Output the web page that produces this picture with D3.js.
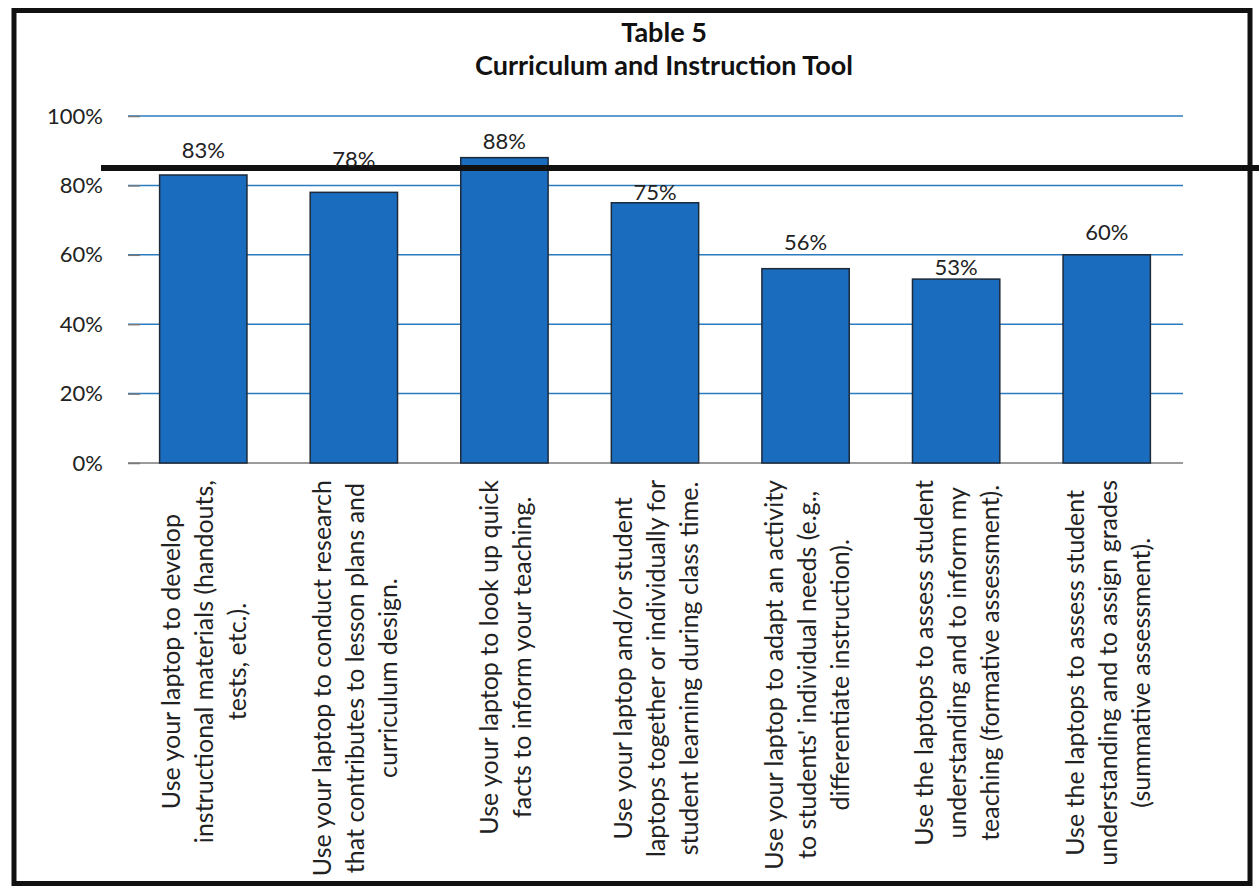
<!DOCTYPE html>
<html>
<head>
<meta charset="utf-8">
<script src="https://cdn.jsdelivr.net/npm/d3@7"></script>
<style>
  html, body { margin: 0; padding: 0; background: #fff; }
  svg { display: block; }
</style>
</head>
<body>
<svg id="chart" width="1259" height="888"></svg>
<script>
// ---- data ----
const titleLines = ["Table 5", "Curriculum and Instruction Tool"];

const categories = [
  ["Use your laptop to develop", "instructional materials (handouts,", "tests, etc.)."],
  ["Use your laptop to conduct research", "that contributes to lesson plans and", "curriculum design."],
  ["Use your laptop to look up quick", "facts to inform your teaching."],
  ["Use your laptop and/or student", "laptops together or individually for", "student learning during class time."],
  ["Use your laptop to adapt an activity", "to students' individual needs (e.g.,", "differentiate instruction)."],
  ["Use the laptops to assess student", "understanding and to inform my", "teaching (formative assessment)."],
  ["Use the laptops to assess student", "understanding and to assign grades", "(summative assessment)."]
];

const values = [0.83, 0.78, 0.88, 0.75, 0.56, 0.53, 0.60];

const yTicks = [0, 0.2, 0.4, 0.6, 0.8, 1.0];

const benchmark = 0.85;

// ---- layout ----
const W = 1259, H = 888;
const plot = { left: 128, right: 1182, top: 116, bottom: 463 };
// gap (px) between each bar top and the baseline of its value label
const labelGap = [17, 25, 9, 3, 19, 4, 15];

const FONT = "Lato, 'Open Sans', 'Liberation Sans', sans-serif";
const textColor = "#222";
const barFill = "#1a6cbf";
const barStroke = "#1c2a3a";
const gridColor = "#2a7bc0";
const tickColor = "#7a7a7a";

const svg = d3.select("#chart");

svg.append("rect")
  .attr("width", W).attr("height", H)
  .attr("fill", "#fff");

const x = d3.scaleBand()
  .domain(d3.range(values.length))
  .range([plot.left, plot.right])
  .paddingInner(0.42)
  .paddingOuter(0.21);

const y = d3.scaleLinear()
  .domain([0, 1])
  .range([plot.bottom, plot.top]);

// title
svg.append("g")
  .selectAll("text")
  .data(titleLines)
  .join("text")
  .attr("x", 664)
  .attr("y", (d, i) => 42 + i * 33)
  .attr("text-anchor", "middle")
  .attr("font-family", FONT)
  .attr("font-weight", "bold")
  .attr("font-size", 27)
  .attr("fill", "#111")
  .text(d => d);

// horizontal gridlines
svg.append("g")
  .selectAll("line")
  .data(yTicks)
  .join("line")
  .attr("x1", plot.left)
  .attr("x2", plot.right + 1)
  .attr("y1", d => y(d))
  .attr("y2", d => y(d))
  .attr("stroke", d => d === 0 ? tickColor : gridColor)
  .attr("stroke-width", 1.5);

// y axis: ticks and percentage labels
const yAxis = d3.axisLeft(y)
  .tickValues(yTicks)
  .tickFormat(d3.format(".0%"))
  .tickSize(12)
  .tickPadding(25);

const gy = svg.append("g")
  .attr("transform", `translate(${plot.left + 12},0)`)
  .call(yAxis);
gy.select(".domain").remove();
gy.selectAll(".tick line")
  .attr("stroke", tickColor)
  .attr("stroke-width", 1.5);
gy.selectAll(".tick text")
  .attr("font-family", FONT)
  .attr("font-size", 22)
  .attr("fill", textColor);

// bars
svg.append("g")
  .selectAll("rect")
  .data(values)
  .join("rect")
  .attr("x", (d, i) => x(i))
  .attr("y", d => y(d))
  .attr("width", x.bandwidth())
  .attr("height", d => y(0) - y(d))
  .attr("fill", barFill)
  .attr("stroke", barStroke)
  .attr("stroke-width", 1.5);

// benchmark line
svg.append("line")
  .attr("x1", 101)
  .attr("x2", W)
  .attr("y1", y(benchmark))
  .attr("y2", y(benchmark))
  .attr("stroke", "#111")
  .attr("stroke-width", 6);

// value labels
svg.append("g")
  .selectAll("text")
  .data(values)
  .join("text")
  .attr("x", (d, i) => x(i) + x.bandwidth() / 2)
  .attr("y", (d, i) => y(d) - labelGap[i])
  .attr("text-anchor", "middle")
  .attr("font-family", FONT)
  .attr("font-size", 22)
  .attr("fill", textColor)
  .text(d => d3.format(".0%")(d));

// category labels, rotated and centred within each block
const lineStep = 33;
const labelTop = 480;
const catGroups = svg.append("g")
  .selectAll("g")
  .data(categories)
  .join("g")
  .attr("transform", (d, i) =>
    `translate(${x(i) + x.bandwidth() / 2},${labelTop}) rotate(-90)`);

catGroups.each(function(lines) {
  const g = d3.select(this);
  const texts = g.selectAll("text")
    .data(lines)
    .join("text")
    .attr("y", (d, j) => (j - (lines.length - 1) / 2) * lineStep)
    .attr("dominant-baseline", "central")
    .attr("text-anchor", "middle")
    .attr("font-family", FONT)
    .attr("font-size", 25)
    .attr("fill", textColor)
    .text(d => d);
  let maxW = 0;
  texts.each(function() { maxW = Math.max(maxW, this.getComputedTextLength()); });
  texts.attr("x", -maxW / 2);
});

// outer frame
svg.append("rect")
  .attr("x", 14)
  .attr("y", 10.5)
  .attr("width", 1236)
  .attr("height", 873)
  .attr("fill", "none")
  .attr("stroke", "#111")
  .attr("stroke-width", 5);
</script>
</body>
</html>
